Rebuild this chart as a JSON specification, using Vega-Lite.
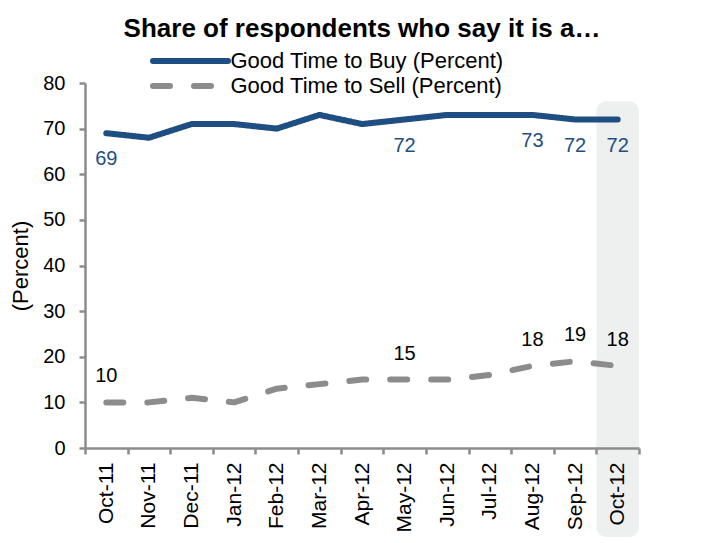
{
  "$schema": "https://vega.github.io/schema/vega-lite/v6.json",
  "width": 554,
  "height": 365,
  "autosize": {"type": "none"},
  "padding": {"left": 85, "top": 83, "right": 65, "bottom": 95},
  "background": "white",
  "title": {
    "text": "Share of respondents who say it is a…",
    "font": "Liberation Sans",
    "fontSize": 26,
    "fontWeight": "bold",
    "color": "#000000",
    "anchor": "middle",
    "offset": 6
  },
  "config": {
    "view": {"stroke": null},
    "axis": {
      "labelFont": "Liberation Sans",
      "titleFont": "Liberation Sans",
      "labelFontSize": 20,
      "titleFontSize": 22,
      "labelColor": "#000000",
      "titleColor": "#000000",
      "domainColor": "#8c8c8c",
      "domainWidth": 2.5,
      "tickColor": "#8c8c8c",
      "tickWidth": 2.5,
      "tickSize": 6,
      "grid": false
    },
    "legend": {
      "labelFont": "Liberation Sans",
      "labelFontSize": 22,
      "labelColor": "#000000",
      "labelLimit": 400,
      "padding": 0
    }
  },
  "data": {
    "values": [
      {"month": "Oct-11", "series": "Good Time to Buy (Percent)", "value": 69, "show": true},
      {"month": "Nov-11", "series": "Good Time to Buy (Percent)", "value": 68, "show": false},
      {"month": "Dec-11", "series": "Good Time to Buy (Percent)", "value": 71, "show": false},
      {"month": "Jan-12", "series": "Good Time to Buy (Percent)", "value": 71, "show": false},
      {"month": "Feb-12", "series": "Good Time to Buy (Percent)", "value": 70, "show": false},
      {"month": "Mar-12", "series": "Good Time to Buy (Percent)", "value": 73, "show": false},
      {"month": "Apr-12", "series": "Good Time to Buy (Percent)", "value": 71, "show": false},
      {"month": "May-12", "series": "Good Time to Buy (Percent)", "value": 72, "show": true},
      {"month": "Jun-12", "series": "Good Time to Buy (Percent)", "value": 73, "show": false},
      {"month": "Jul-12", "series": "Good Time to Buy (Percent)", "value": 73, "show": false},
      {"month": "Aug-12", "series": "Good Time to Buy (Percent)", "value": 73, "show": true},
      {"month": "Sep-12", "series": "Good Time to Buy (Percent)", "value": 72, "show": true},
      {"month": "Oct-12", "series": "Good Time to Buy (Percent)", "value": 72, "show": true},
      {"month": "Oct-11", "series": "Good Time to Sell (Percent)", "value": 10, "show": true},
      {"month": "Nov-11", "series": "Good Time to Sell (Percent)", "value": 10, "show": false},
      {"month": "Dec-11", "series": "Good Time to Sell (Percent)", "value": 11, "show": false},
      {"month": "Jan-12", "series": "Good Time to Sell (Percent)", "value": 10, "show": false},
      {"month": "Feb-12", "series": "Good Time to Sell (Percent)", "value": 13, "show": false},
      {"month": "Mar-12", "series": "Good Time to Sell (Percent)", "value": 14, "show": false},
      {"month": "Apr-12", "series": "Good Time to Sell (Percent)", "value": 15, "show": false},
      {"month": "May-12", "series": "Good Time to Sell (Percent)", "value": 15, "show": true},
      {"month": "Jun-12", "series": "Good Time to Sell (Percent)", "value": 15, "show": false},
      {"month": "Jul-12", "series": "Good Time to Sell (Percent)", "value": 16, "show": false},
      {"month": "Aug-12", "series": "Good Time to Sell (Percent)", "value": 18, "show": true},
      {"month": "Sep-12", "series": "Good Time to Sell (Percent)", "value": 19, "show": true},
      {"month": "Oct-12", "series": "Good Time to Sell (Percent)", "value": 18, "show": true}
    ]
  },
  "encoding": {
    "x": {
      "field": "month",
      "type": "nominal",
      "sort": ["Oct-11", "Nov-11", "Dec-11", "Jan-12", "Feb-12", "Mar-12", "Apr-12", "May-12", "Jun-12", "Jul-12", "Aug-12", "Sep-12", "Oct-12"],
      "scale": {"type": "band", "paddingInner": 0, "paddingOuter": 0},
      "axis": {
        "title": null,
        "labelAngle": -90,
        "labelAlign": "right",
        "labelBaseline": "middle",
        "labelPadding": 8,
        "labelFontSize": 21,
        "tickBand": "extent",
        "zindex": 1
      }
    }
  },
  "layer": [
    {
      "data": {"values": [{"month": "Oct-12", "top": 76, "bottom": -19.5}]},
      "mark": {"type": "rect", "color": "#eef0f0", "cornerRadius": 10, "clip": false},
      "encoding": {
        "y": {"field": "top", "type": "quantitative", "scale": {"domain": [0, 80]}},
        "y2": {"field": "bottom"}
      }
    },
    {
      "mark": {"type": "line", "strokeWidth": 6, "strokeCap": "round", "strokeJoin": "round"},
      "encoding": {
        "x": {"field": "month", "type": "nominal", "bandPosition": 0.5},
        "y": {
          "field": "value",
          "type": "quantitative",
          "scale": {"domain": [0, 80]},
          "axis": {
            "title": "(Percent)",
            "values": [0, 10, 20, 30, 40, 50, 60, 70, 80],
            "labelPadding": 14,
            "titlePadding": 10,
            "titleFontWeight": "normal",
            "zindex": 1
          }
        },
        "color": {
          "field": "series",
          "type": "nominal",
          "scale": {"range": ["#1f4e82", "#8c8c8c"]},
          "legend": {
            "title": null,
            "orient": "none",
            "legendX": 65,
            "legendY": -35,
            "symbolType": "M-3.75,0H3.75",
            "symbolSize": 400,
            "symbolStrokeWidth": 6,
            "symbolOffset": 27.5,
            "rowPadding": -3,
            "labelOffset": 27,
            "encode": {"symbols": {"update": {"strokeCap": {"value": "round"}}}}
          }
        },
        "strokeDash": {
          "field": "series",
          "type": "nominal",
          "scale": {"range": [[1, 0], [17, 24]]},
          "legend": null
        }
      }
    },
    {
      "transform": [{"filter": "datum.show && datum.series === 'Good Time to Buy (Percent)'"}],
      "mark": {"type": "text", "font": "Liberation Sans", "fontSize": 20, "color": "#1f4e82", "dy": 26},
      "encoding": {
        "x": {"field": "month", "type": "nominal", "bandPosition": 0.5},
        "y": {"field": "value", "type": "quantitative"},
        "text": {"field": "value", "type": "quantitative"}
      }
    },
    {
      "transform": [{"filter": "datum.show && datum.series === 'Good Time to Sell (Percent)'"}],
      "mark": {"type": "text", "font": "Liberation Sans", "fontSize": 20, "color": "#000000", "dy": -26},
      "encoding": {
        "x": {"field": "month", "type": "nominal", "bandPosition": 0.5},
        "y": {"field": "value", "type": "quantitative"},
        "text": {"field": "value", "type": "quantitative"}
      }
    }
  ]
}
